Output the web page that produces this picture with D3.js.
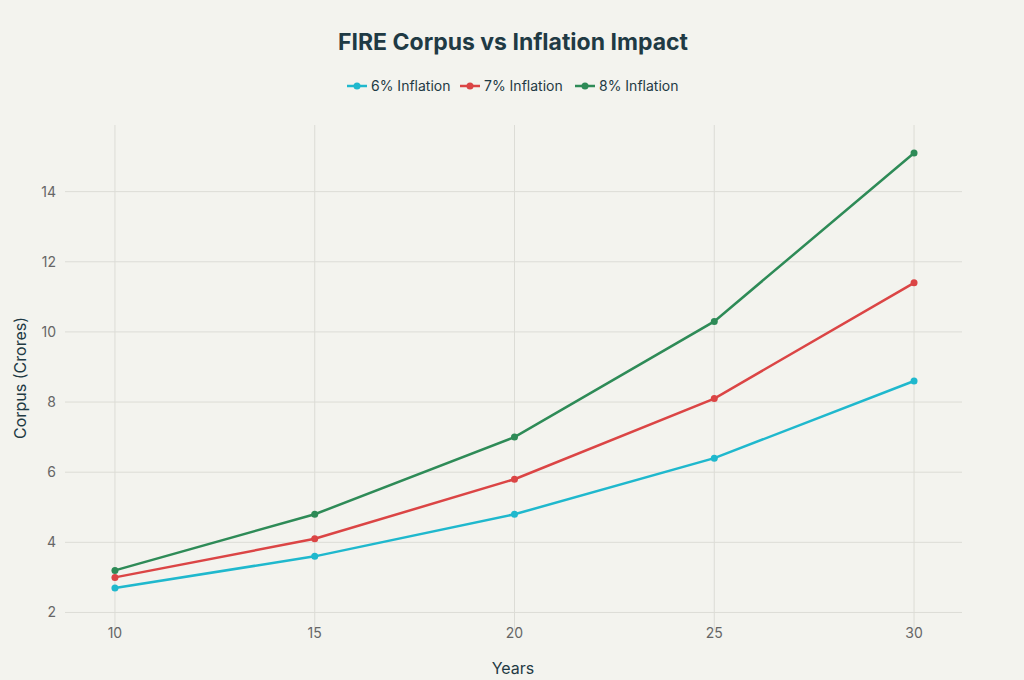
<!DOCTYPE html>
<html><head><meta charset="utf-8">
<script src="https://cdn.jsdelivr.net/npm/d3@7"></script>
<style>body{margin:0;background:#f3f3ee;font-family:Inter,"Open Sans",sans-serif;}</style>
</head><body><svg id="chart" width="1024" height="680"></svg>
<script>
const years = [10, 15, 20, 25, 30];
const seriesNames = ["6% Inflation", "7% Inflation", "8% Inflation"];
const inflation6 = [2.7, 3.6, 4.8, 6.4, 8.6];
const inflation7 = [3.0, 4.1, 5.8, 8.1, 11.4];
const inflation8 = [3.2, 4.8, 7.0, 10.3, 15.1];
const colors = ["#1FB8CD", "#DB4545", "#2E8B57"];
const yTicks = [2, 4, 6, 8, 10, 12, 14];

const svg = d3.select("#chart");
const x = d3.scaleLinear().domain([8.75, 31.2]).range([65, 962]);
const y = d3.scaleLinear().domain([1.5, 15.9]).range([630, 125]);

svg.append("rect").attr("width", 1024).attr("height", 680).attr("fill", "#f3f3ee");

// grid
svg.append("g").selectAll("line").data(years).join("line")
  .attr("x1", d => x(d)).attr("x2", d => x(d)).attr("y1", 125).attr("y2", 630)
  .attr("stroke", "#dcdcd6").attr("stroke-width", 1);
svg.append("g").selectAll("line").data(yTicks).join("line")
  .attr("x1", 65).attr("x2", 962).attr("y1", d => y(d)).attr("y2", d => y(d))
  .attr("stroke", "#dcdcd6").attr("stroke-width", 1);

svg.append("g").selectAll("text").data(years).join("text")
  .attr("x", d => x(d)).attr("y", 638).attr("text-anchor", "middle")
  .attr("font-size", 14).attr("fill", "#666").text(d => d);
svg.append("g").selectAll("text").data(yTicks).join("text")
  .attr("x", 56).attr("y", d => y(d) + 5).attr("text-anchor", "end")
  .attr("font-size", 14).attr("fill", "#666").text(d => d);

svg.append("text").attr("x", 513).attr("y", 674).attr("text-anchor", "middle")
  .attr("font-size", 16).attr("fill", "#1f3a44").text("Years");
svg.append("text").attr("transform", "translate(26,378) rotate(-90)").attr("text-anchor", "middle")
  .attr("font-size", 16).attr("fill", "#1f3a44").text("Corpus (Crores)");
svg.append("text").attr("x", 513).attr("y", 50).attr("text-anchor", "middle")
  .attr("font-size", 23).attr("font-weight", "bold").attr("fill", "#1f3a44").text("FIRE Corpus vs Inflation Impact");

const allSeries = [inflation6, inflation7, inflation8];
const line = d3.line().x((d, i) => x(years[i])).y(d => y(d));
allSeries.forEach((vals, s) => {
  svg.append("path").datum(vals).attr("d", line).attr("fill", "none")
    .attr("stroke", colors[s]).attr("stroke-width", 2.5);
  svg.append("g").selectAll("circle").data(vals).join("circle")
    .attr("cx", (d, i) => x(years[i])).attr("cy", d => y(d)).attr("r", 3.5).attr("fill", colors[s]);
});

// legend
const legendX = [347, 460, 575];
seriesNames.forEach((name, s) => {
  const g = svg.append("g").attr("transform", `translate(${legendX[s]},86)`);
  g.append("line").attr("x1", 0).attr("x2", 20).attr("stroke", colors[s]).attr("stroke-width", 2.5);
  g.append("circle").attr("cx", 10).attr("r", 3.5).attr("fill", colors[s]);
  g.append("text").attr("x", 24).attr("y", 5).attr("font-size", 14).attr("fill", "#1f3a44").text(name);
});
</script></body></html>
